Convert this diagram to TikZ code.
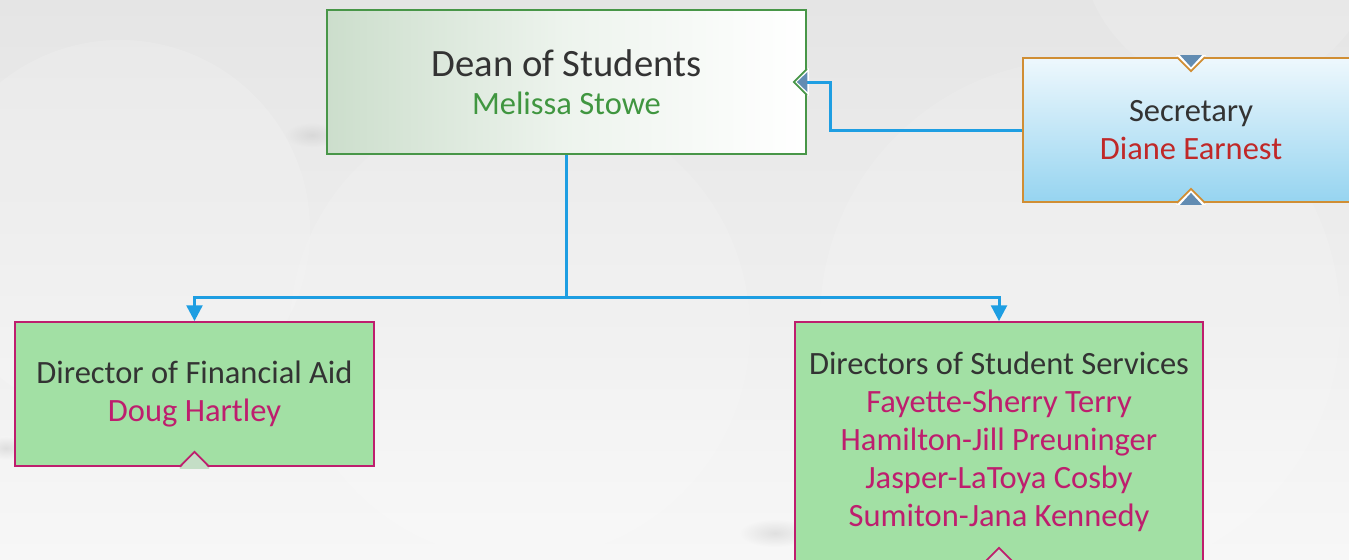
\documentclass[tikz,border=0pt]{standalone}
\usepackage{fontspec}
\setmainfont{Carlito}
\usetikzlibrary{arrows.meta, calc, positioning}
\definecolor{bgtop}{RGB}{229,229,229}
\definecolor{bgbot}{RGB}{247,247,247}
\definecolor{linkblue}{RGB}{30,158,226}
\definecolor{tipblue}{RGB}{98,140,178}
\definecolor{deanline}{RGB}{72,150,72}
\definecolor{deanname}{RGB}{64,150,64}
\definecolor{deanleft}{RGB}{204,222,204}
\definecolor{secline}{RGB}{208,142,52}
\definecolor{sectop}{RGB}{238,248,253}
\definecolor{secbot}{RGB}{150,212,240}
\definecolor{secname}{RGB}{192,40,40}
\definecolor{dirfill}{RGB}{162,224,164}
\definecolor{dirline}{RGB}{190,30,110}
\definecolor{notchfill}{RGB}{196,222,198}
\tikzset{
	orgbox/.style = {draw, line width = 1pt, align = center, inner sep = 0pt, text = black!80, font = \fontsize{18.5}{21.6}\selectfont},
	deanbox/.style = {orgbox, draw = deanline, left color = deanleft, right color = white, middle color = deanleft!35},
	secbox/.style = {orgbox, draw = secline, top color = sectop, bottom color = secbot},
	dirbox/.style = {orgbox, draw = dirline, fill = dirfill},
	link/.style = {draw = linkblue, line width = 1.7pt},
	linktip/.style = {-{Triangle[length = 9pt, width = 9pt]}}
}
\begin{document}
\begin{tikzpicture}[x = 0.02cm, y = -0.02cm]
	\pgfmathsetmacro{\px}{0.02}
	\shade [top color = bgtop, bottom color = bgbot] (0, 0) rectangle (1349, 559);
	\clip (0, 0) rectangle (1349, 559);
	\fill [white, opacity = .15] (120, 230) circle (190);
	\fill [white, opacity = .12] (520, 330) circle (230);
	\fill [white, opacity = .12] (1080, 320) circle (260);
	\fill [white, opacity = .12] (1230, -60) circle (150);
	\shade [inner color = black!25, outer color = bgtop!80!bgbot, opacity = .4] (312, 135) ellipse (26 and 12);
	\shade [inner color = black!25, outer color = bgbot, opacity = .4] (6, 448) ellipse (20 and 12);
	\shade [inner color = black!25, outer color = bgbot, opacity = .4] (775, 533) ellipse (36 and 14);
	\node [deanbox, minimum width = 479*\px cm, minimum height = 144*\px cm] (dean) at (566.5, 82)
		{{\fontsize{22}{23.2}\selectfont Dean of Students}\\{\color{deanname}Melissa Stowe}};
	\node [secbox, minimum width = 336*\px cm, minimum height = 144*\px cm] (sec) at (1191, 130)
		{Secretary\\{\color{secname}Diane Earnest}};
	\node [dirbox, minimum width = 359*\px cm, minimum height = 144*\px cm] (fin) at (194.5, 394)
		{Director of Financial Aid\\{\color{dirline}Doug Hartley}};
	\node [dirbox, minimum width = 408*\px cm, minimum height = 240*\px cm] (serv) at (999, 442)
		{Directors of Student Services\\{\color{dirline}Fayette-Sherry Terry}\\{\color{dirline}Hamilton-Jill Preuninger}\\{\color{dirline}Jasper-LaToya Cosby}\\{\color{dirline}Sumiton-Jana Kennedy}};
	\fill [white] ($(dean.east) + (2, -14)$) -- ($(dean.east) + (-14, 0)$) -- ($(dean.east) + (2, 14)$) -- cycle;
	\draw [deanline, line width = 1pt] ($(dean.east) + (0, -13)$) -- ($(dean.east) + (-13, 0)$) -- ($(dean.east) + (0, 13)$);
	\fill [white] ($(sec.north) + (-15, -2)$) -- ($(sec.north) + (0, 15)$) -- ($(sec.north) + (15, -2)$) -- cycle;
	\fill [tipblue] ($(sec.north) + (-11, -2)$) -- ($(sec.north) + (0, 10)$) -- ($(sec.north) + (11, -2)$) -- cycle;
	\draw [secline, line width = 1pt] ($(sec.north) + (-14, 0)$) -- ($(sec.north) + (0, 14)$) -- ($(sec.north) + (14, 0)$);
	\fill [white] ($(sec.south) + (-15, 2)$) -- ($(sec.south) + (0, -15)$) -- ($(sec.south) + (15, 2)$) -- cycle;
	\fill [tipblue] ($(sec.south) + (-11, 2)$) -- ($(sec.south) + (0, -10)$) -- ($(sec.south) + (11, 2)$) -- cycle;
	\draw [secline, line width = 1pt] ($(sec.south) + (-14, 0)$) -- ($(sec.south) + (0, -14)$) -- ($(sec.south) + (14, 0)$);
	\foreach \n in {fin, serv} {
		\fill [notchfill] ($(\n.south) + (-15, 2)$) -- ($(\n.south) + (0, -15)$) -- ($(\n.south) + (15, 2)$) -- cycle;
		\draw [dirline, line width = 1pt] ($(\n.south) + (-15, 0)$) -- ($(\n.south) + (0, -15)$) -- ($(\n.south) + (15, 0)$);
	}
	\coordinate (bus) at (566.5, 297);
	\draw [link] (dean.south) -- (bus);
	\draw [link, linktip] (bus) -| (fin.north);
	\draw [link, linktip] (bus) -| (serv.north);
	\draw [link, -{Triangle[length = 6pt, width = 11pt, color = tipblue]}] (sec.west) -- ++(-192, 0) |- ($(dean.east) + (-10, 0)$);
\end{tikzpicture}
\end{document}
